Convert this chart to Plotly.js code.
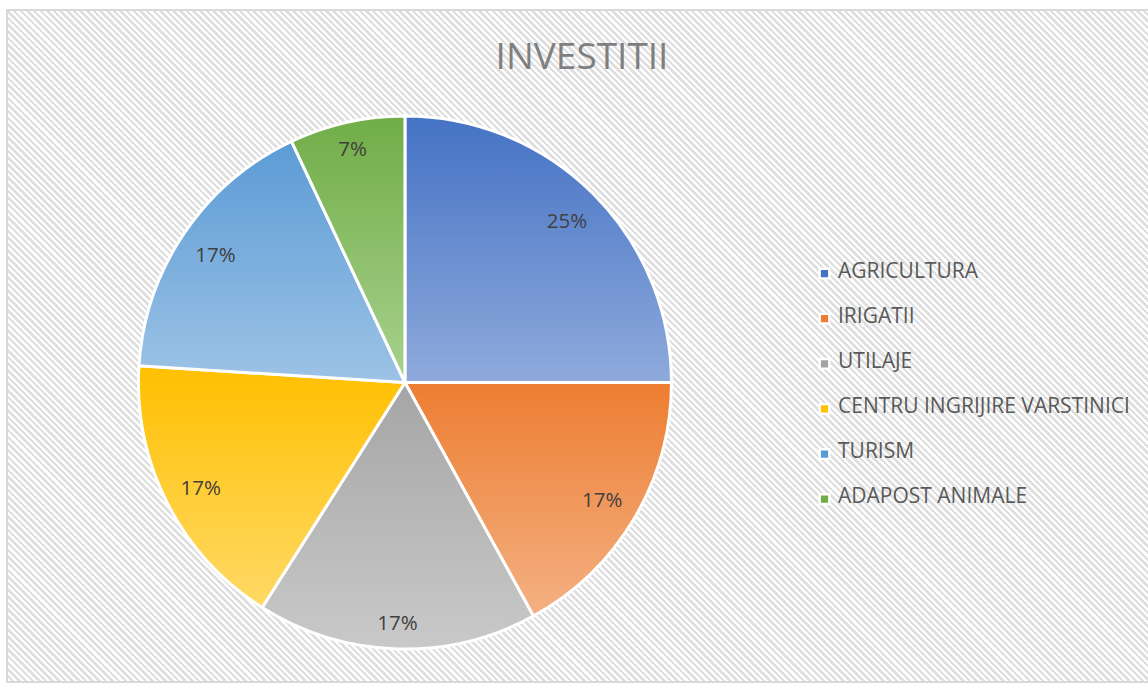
<!DOCTYPE html>
<html>
<head>
<meta charset="utf-8">
<script src="https://cdn.plot.ly/plotly-3.0.1.min.js"></script>
<style>
  html, body { margin: 0; padding: 0; background: #ffffff; }
  #wrap { position: relative; width: 1148px; height: 686px; overflow: hidden; }
  #bg {
    position: absolute; left: 6px; top: 9px; width: 1160px; height: 670px;
    border: 2px solid #d9d9d9;
    background: repeating-linear-gradient(45deg, #ffffff 0px, #ffffff 2.2px, #dfdfdf 2.2px, #dfdfdf 4.7px);
  }
  #chart { position: absolute; left: 0; top: 0; width: 1148px; height: 686px; }
</style>
</head>
<body>
<div id="wrap">
  <div id="bg"></div>
  <div id="chart"></div>
</div>
<script>
// ---- data ----
const categories = ["AGRICULTURA", "IRIGATII", "UTILAJE", "CENTRU INGRIJIRE VARSTINICI", "TURISM", "ADAPOST ANIMALE"];
const shares = [25, 17, 17, 17, 17, 7];
const chartTitle = "INVESTITII";

// ---- styles ----
const baseColors = ["#4472C4", "#ED7D31", "#A5A5A5", "#FFC000", "#5B9BD5", "#70AD47"];
const lightColors = ["#8FAADC", "#F4B183", "#C9C9C9", "#FFD966", "#9DC3E6", "#A9D18E"];
const FONT = "Open Sans, Liberation Sans, sans-serif";
// which label sits further out (Excel best-fit placement)
const outerLabel = [false, false, true, false, false, true];

// legend labels padded for Excel-like spacing
const legendLabels = categories.map(c => "\u00a0<br><span style=\"font-size:21px\">" + c + "</span><br>\u00a0");

const dom = { x: [0.1206, 0.5849], y: [0.0539, 0.8309] };

const pieMain = {
  type: "pie",
  labels: legendLabels,
  values: shares,
  sort: false,
  direction: "clockwise",
  rotation: 0,
  domain: dom,
  marker: { colors: baseColors, line: { color: "#ffffff", width: 3 } },
  textinfo: "none",
  hoverinfo: "none",
  showlegend: true
};

function textPie(hole, showOuter) {
  return {
    type: "pie",
    labels: categories,
    values: shares,
    sort: false,
    direction: "clockwise",
    rotation: 0,
    hole: hole,
    domain: dom,
    marker: { colors: shares.map(() => "rgba(0,0,0,0)"), line: { width: 0 } },
    texttemplate: outerLabel.map(o => (o === showOuter ? "%{percent}" : "")),
    textposition: "inside",
    insidetextorientation: "horizontal",
    insidetextfont: { family: FONT, size: 20.5, color: "#404040" },
    hoverinfo: "none",
    showlegend: false
  };
}

const layout = {
  width: 1148,
  height: 686,
  margin: { l: 0, r: 0, t: 0, b: 0 },
  paper_bgcolor: "rgba(0,0,0,0)",
  plot_bgcolor: "rgba(0,0,0,0)",
  title: {
    text: chartTitle,
    font: { family: FONT, size: 37, color: "#7f7f7f" },
    x: 0.507, xanchor: "center",
    y: 1 - 56 / 686, yanchor: "middle",
    xref: "paper", yref: "paper"
  },
  showlegend: true,
  legend: {
    x: 798 / 1148, xanchor: "left",
    y: 1 - 246 / 686, yanchor: "top",
    bgcolor: "rgba(0,0,0,0)",
    font: { family: FONT, size: 10.8, color: "#595959" },
    traceorder: "normal"
  }
};

Plotly.newPlot("chart", [pieMain, textPie(0.72, false), textPie(0.8, true)], layout, { displayModeBar: false, staticPlot: true }).then(gd => {
  const svg = gd.querySelector("svg.main-svg");
  const ns = "http://www.w3.org/2000/svg";
  let defs = svg.querySelector("defs");
  if (!defs) { defs = document.createElementNS(ns, "defs"); svg.insertBefore(defs, svg.firstChild); }
  baseColors.forEach((c, i) => {
    const g = document.createElementNS(ns, "linearGradient");
    g.setAttribute("id", "slicegrad" + i);
    g.setAttribute("x1", "0"); g.setAttribute("y1", "0");
    g.setAttribute("x2", "0"); g.setAttribute("y2", "1");
    const s1 = document.createElementNS(ns, "stop");
    s1.setAttribute("offset", "0"); s1.setAttribute("stop-color", c);
    const s2 = document.createElementNS(ns, "stop");
    s2.setAttribute("offset", "1"); s2.setAttribute("stop-color", lightColors[i]);
    g.appendChild(s1); g.appendChild(s2);
    defs.appendChild(g);
  });
  const traces = gd.querySelectorAll(".pielayer .trace");
  if (traces.length) {
    traces[0].querySelectorAll("path.surface").forEach((p, i) => {
      p.style.fill = "url(#slicegrad" + i + ")";
    });
  }
  gd.querySelectorAll(".legendpie").forEach(p => {
    p.setAttribute("transform", "translate(26.5,0) scale(0.8)");
  });
});
</script>
</body>
</html>
